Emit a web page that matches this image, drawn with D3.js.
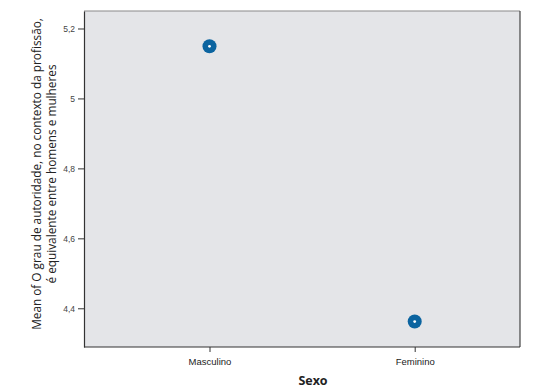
<!DOCTYPE html>
<html>
<head>
<meta charset="utf-8">
<script src="https://cdn.jsdelivr.net/npm/d3@7/dist/d3.min.js"></script>
<style>
  html, body { margin: 0; padding: 0; background: #fff; }
  svg { display: block; font-family: "Open Sans", "DejaVu Sans", sans-serif; }
</style>
</head>
<body>
<svg id="chart" width="533" height="390"></svg>
<script>
// Mean scores by sex
const categories = ["Masculino", "Feminino"];
const means = [5.149, 4.362];
const yTicks = [4.4, 4.6, 4.8, 5.0, 5.2];
const yTickLabels = ["4,4", "4,6", "4,8", "5", "5,2"];
const xTitle = "Sexo";
const yTitleLines = ["Mean of O grau de autoridade, no contexto da profissão,", "é equivalente entre homens e mulheres"];

const svg = d3.select("#chart");
const box = { left: 84, top: 11, right: 520, bottom: 347 };

const x = d3.scalePoint()
  .domain(categories)
  .range([209.5, 414.7]);

const y = d3.scaleLinear()
  .domain([4.2893, 5.25])
  .range([box.bottom, box.top]);

// plot background
svg.append("rect")
  .attr("x", box.left).attr("y", box.top)
  .attr("width", box.right - box.left).attr("height", box.bottom - box.top)
  .attr("fill", "#e4e5e8");

// frame: lighter top edge, darker right edge
svg.append("line").attr("x1", box.left).attr("x2", box.right).attr("y1", box.top).attr("y2", box.top)
  .attr("stroke", "#8a8a8a").attr("stroke-width", 1.2);
svg.append("line").attr("x1", box.right).attr("x2", box.right).attr("y1", box.top).attr("y2", box.bottom)
  .attr("stroke", "#444").attr("stroke-width", 1.2);

// y axis
const yAxis = d3.axisLeft(y)
  .tickValues(yTicks)
  .tickFormat((d, i) => yTickLabels[i])
  .tickSize(6)
  .tickSizeOuter(0)
  .tickPadding(3);
const gy = svg.append("g").attr("transform", `translate(${box.left},0)`).call(yAxis);
gy.select(".domain").attr("stroke", "#333").attr("stroke-width", 1.2);
gy.selectAll(".tick line").attr("stroke", "#333");
gy.selectAll(".tick text").attr("fill", "#444").style("font-size", "8.5px");

// x axis
const xAxis = d3.axisBottom(x).tickSize(5).tickSizeOuter(0).tickPadding(6);
const gx = svg.append("g").attr("transform", `translate(0,${box.bottom})`).call(xAxis);
gx.select(".domain").attr("d", `M${box.left},0H${box.right}`).attr("stroke", "#333").attr("stroke-width", 1.2);
gx.selectAll(".tick line").attr("stroke", "#333");
gx.selectAll(".tick text").attr("fill", "#222").style("font-size", "9.5px");

// axis titles
svg.append("text")
  .attr("x", 313).attr("y", 385)
  .attr("text-anchor", "middle")
  .style("font-size", "12.5px").style("font-weight", "bold").attr("fill", "#222")
  .text(xTitle);

const yt = svg.append("text")
  .attr("transform", "translate(0,174) rotate(-90)")
  .attr("text-anchor", "middle")
  .style("font-size", "11.8px").attr("fill", "#222");
yt.selectAll("tspan").data(yTitleLines).join("tspan")
  .attr("x", 0)
  .attr("y", (d, i) => 41 + i * 14.5)
  .text(d => d);

// mean markers
const pts = svg.append("g").selectAll("g").data(categories).join("g")
  .attr("transform", (d, i) => `translate(${x(d)},${y(means[i])})`);
pts.append("circle").attr("r", 7).attr("fill", "#0b64a0");
pts.append("circle").attr("r", 1.4).attr("fill", "#fff");
</script>
</body>
</html>
